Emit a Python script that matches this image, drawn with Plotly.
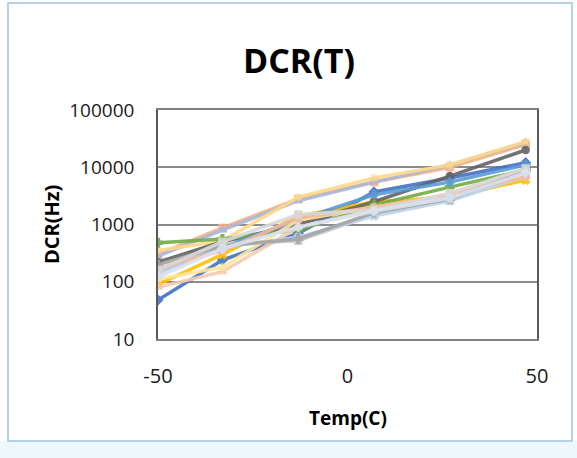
import plotly.graph_objects as go

temps = [-50, -33, -13, 7, 27, 47]

series_names = [f"S{i+1}" for i in range(16)]
series_values = [
    [48, 240, 700, 3700, 6500, 12000],
    [300, 870, 2800, 5500, 10000, 25000],
    [280, 800, 2600, 5500, 11000, 27000],
    [90, 300, 1400, 2500, 3000, 6000],
    [350, 520, 3000, 6500, 11000, 28000],
    [220, 500, 1000, 2500, 7000, 20000],
    [480, 560, 800, 2200, 4500, 9000],
    [150, 400, 1200, 3300, 5500, 11000],
    [150, 450, 520, 1500, 2600, 8000],
    [80, 150, 900, 1800, 3500, 9000],
    [130, 400, 600, 1400, 2600, 7000],
    [110, 180, 1200, 2000, 3200, 7500],
    [170, 350, 1300, 2000, 3300, 7000],
    [200, 420, 560, 1600, 2800, 8500],
    [160, 500, 1500, 1800, 3500, 9500],
    [120, 380, 900, 1700, 2900, 8000],
]
series_colors = [
    "#4472C4", "#F4B183", "#A9B8E0", "#FFC000", "#FFD98A", "#636363",
    "#70AD47", "#5B9BD5", "#C9C9C9", "#F8CBAD", "#BDD7EE", "#FFE699",
    "#F4B9A0", "#A5A5A5", "#D9D9D9", "#DAE3F3",
]
series_markers = [
    "diamond", "square", "triangle-up", "x", "asterisk", "circle",
    "cross", "diamond", "square", "triangle-up", "x", "asterisk",
    "circle", "cross", "square", "diamond",
]

y_tickvals = [10, 100, 1000, 10000, 100000]
y_ticktext = ["10", "100", "1000", "10000", "100000"]
x_tickvals = [-50, 0, 50]
x_ticktext = ["-50", "0", "50"]

fig = go.Figure()
for name, vals, col, mk in zip(series_names, series_values, series_colors, series_markers):
    fig.add_trace(go.Scatter(
        x=temps, y=vals, name=name, mode="lines+markers",
        line=dict(color=col, width=3.5),
        opacity=0.9,
        marker=dict(symbol=mk, size=7, color=col, line=dict(color=col, width=1.5)),
    ))

W, H = 577, 458
L, R, T, B = 158, 40, 110, 119
pw, ph = W - L - R, H - T - B

def px_x(p):
    return (p - L) / pw

def px_y(p):
    return (H - B - p) / ph

font_family = "Open Sans, Noto Sans, sans-serif"

fig.update_layout(
    width=W, height=H,
    margin=dict(l=L, r=R, t=T, b=B, pad=0),
    paper_bgcolor="white", plot_bgcolor="white",
    showlegend=False,
    font=dict(family=font_family, color="#1a1a1a", size=20),
    xaxis=dict(
        range=[-50, 50], tickvals=x_tickvals, ticktext=x_ticktext,
        showgrid=False, zeroline=False, showline=True, mirror=True,
        linecolor="#808080", linewidth=1.5, ticks="",
        ticklabelstandoff=18, tickfont=dict(size=20, color="#1a1a1a"),
    ),
    yaxis=dict(
        type="log", range=[1, 5], tickvals=y_tickvals, ticktext=y_ticktext,
        showgrid=True, gridcolor="#8c8c8c", gridwidth=1.5,
        zeroline=False, showline=True, mirror=True,
        linecolor="#595959", linewidth=1.5, ticks="",
        ticklabelstandoff=18, tickfont=dict(size=19, color="#1a1a1a"),
    ),
    annotations=[
        dict(text="<b>DCR(T)</b>", xref="paper", yref="paper",
             x=px_x(299), y=px_y(60), showarrow=False,
             xanchor="center", yanchor="middle",
             font=dict(size=34, color="#000000", family=font_family)),
        dict(text="<b>Temp(C)</b>", xref="paper", yref="paper",
             x=px_x(348), y=px_y(418), showarrow=False,
             xanchor="center", yanchor="middle",
             font=dict(size=19, color="#000000", family=font_family)),
        dict(text="<b>DCR(Hz)</b>", xref="paper", yref="paper",
             x=px_x(51), y=px_y(225), showarrow=False, textangle=-90,
             xanchor="center", yanchor="middle",
             font=dict(size=20, color="#000000", family=font_family)),
    ],
    shapes=[
        dict(type="rect", xref="paper", yref="paper", layer="below",
             x0=px_x(0), x1=px_x(577), y0=px_y(458), y1=px_y(441),
             line=dict(width=0), fillcolor="#EEF8FC"),
        dict(type="rect", xref="paper", yref="paper", layer="below",
             x0=px_x(8), x1=px_x(572), y0=px_y(441), y1=px_y(3),
             line=dict(color="#9DC3E6", width=1.5), fillcolor="rgba(0,0,0,0)"),
    ],
)

fig.write_html("out.html",
               config={"displayModeBar": False},
               post_script="document.body.style.margin='0';document.body.style.overflow='hidden';")
